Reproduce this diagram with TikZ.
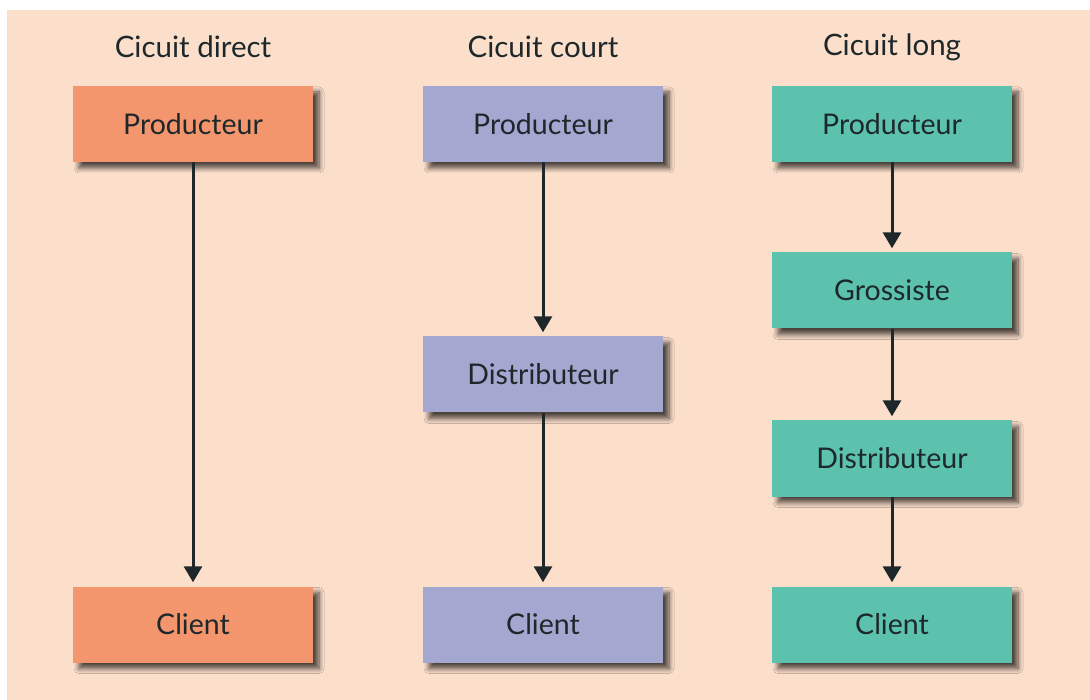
\documentclass[tikz,border=0pt]{standalone}
\usepackage{fontspec}
\setmainfont{Lato}
\usetikzlibrary{arrows.meta,shadows.blur}
\definecolor{bg}{RGB}{252,223,203}
\definecolor{orangebox}{RGB}{243,150,110}
\definecolor{purplebox}{RGB}{164,167,208}
\definecolor{tealbox}{RGB}{92,194,174}
\definecolor{ink}{RGB}{30,40,42}
\begin{document}
\begin{tikzpicture}[x=1pt,y=-1pt,
  box/.style={minimum width=240pt,minimum height=76pt,inner sep=0pt,
    font=\fontsize{28.5}{32}\selectfont,text=ink,
    blur shadow={shadow xshift=6pt,shadow yshift=-6pt,shadow blur radius=5pt,shadow opacity=70,shadow blur steps=8}},
  title/.style={font=\fontsize{29.5}{34}\selectfont,text=ink,inner sep=0pt},
  flow/.style={draw=ink,line width=3pt,-{Triangle[length=16pt,width=18pt]},shorten >=4pt}]
\useasboundingbox (0,0) rectangle (1090,700);
\fill[white] (0,0) rectangle (1090,700);
\fill[bg] (7,10) rectangle (1090,700);
% titles
\node[title] (t1) at (193,47) {Cicuit direct};
\node[title] (t2) at (543,47) {Cicuit court};
\node[title] (t3) at (892,47) {Cicuit long};
% column 1
\node[box,fill=orangebox] (p1) at (193,124) {Producteur};
\node[box,fill=orangebox] (c1) at (193,624.5) {Client};
% column 2
\node[box,fill=purplebox] (p2) at (543,124) {Producteur};
\node[box,fill=purplebox] (d2) at (543,374.5) {Distributeur};
\node[box,fill=purplebox] (c2) at (543,624.5) {Client};
% column 3
\node[box,fill=tealbox] (p3) at (892,124) {Producteur};
\node[box,fill=tealbox] (g3) at (892,290.5) {Grossiste};
\node[box,fill=tealbox] (d3) at (892,458.5) {Distributeur};
\node[box,fill=tealbox] (c3) at (892,624.5) {Client};
% arrows
\draw[flow] (p1) -- (c1);
\draw[flow] (p2) -- (d2);
\draw[flow] (d2) -- (c2);
\draw[flow] (p3) -- (g3);
\draw[flow] (g3) -- (d3);
\draw[flow] (d3) -- (c3);
\end{tikzpicture}
\end{document}
